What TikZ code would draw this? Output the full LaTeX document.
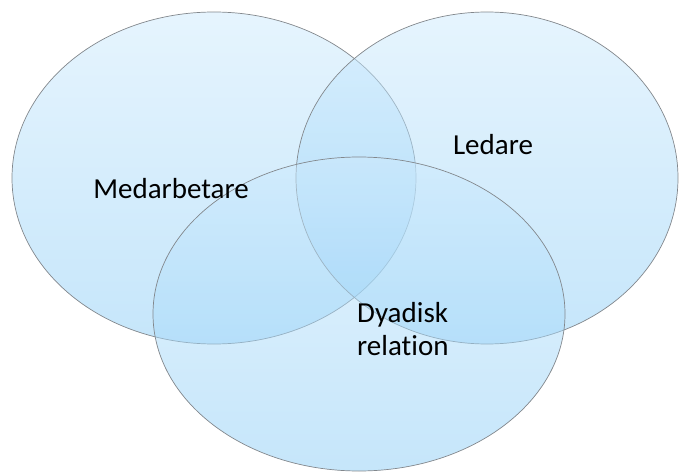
\documentclass[tikz,border=0pt]{standalone}
\usepackage{fontspec}
\setmainfont{Carlito}[Ligatures=NoCommon]
\definecolor{topblue}{RGB}{205,234,253}
\definecolor{botblue}{RGB}{140,205,246}
\definecolor{edgegray}{RGB}{130,135,140}
\begin{document}
\begin{tikzpicture}[x=1pt,y=-1pt,
  vennset/.style={draw=edgegray, line width=0.7pt, top color=topblue, bottom color=botblue, fill opacity=0.5, draw opacity=1},
  lbl/.style={font=\fontsize{29}{33}\selectfont, text=black, align=left, inner sep=0pt}]
\useasboundingbox (0,0) rectangle (679,473);
\path[vennset] (214,178) ellipse [x radius=202, y radius=166];
\path[vennset] (487,178) ellipse [x radius=191, y radius=166];
\path[vennset] (359,314) ellipse [x radius=206, y radius=157];
\node[lbl] (med) at (171,189) {Medarbetare};
\node[lbl] (led) at (493,145) {Ledare};
\node[lbl, anchor=west] (dya) at (357,329) {Dyadisk\\relation};
\end{tikzpicture}
\end{document}
